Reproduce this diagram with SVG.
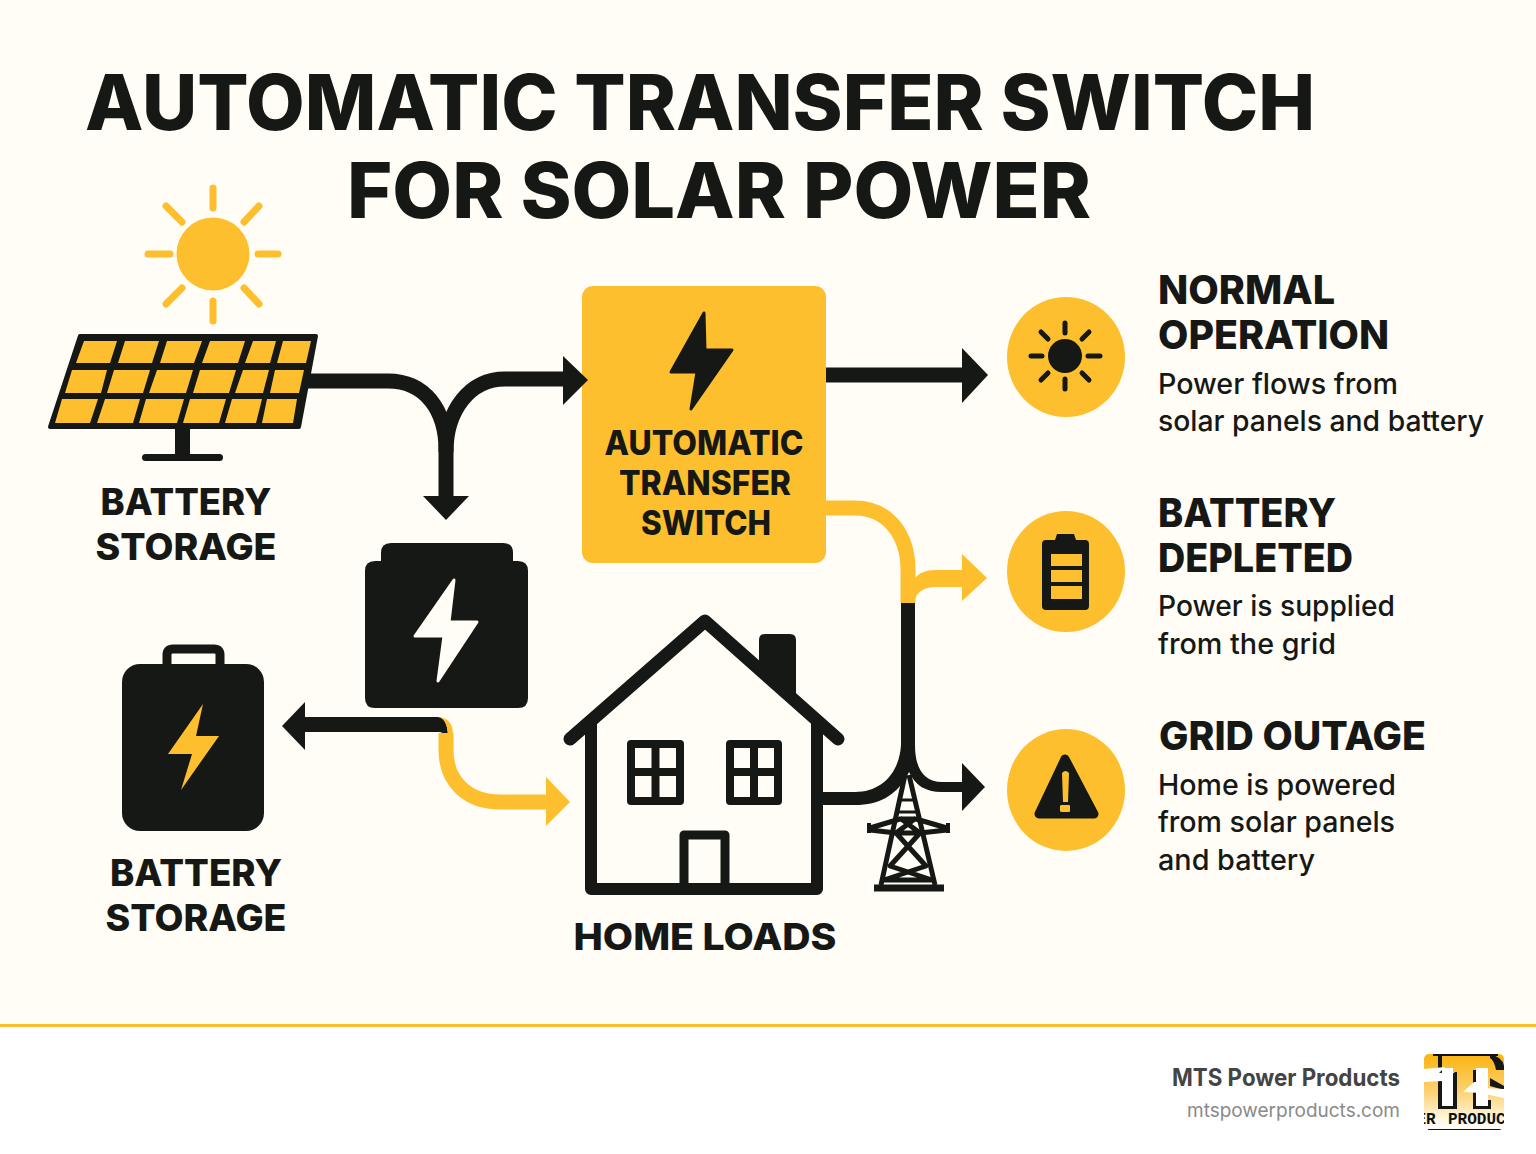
<svg xmlns="http://www.w3.org/2000/svg" width="1536" height="1154" viewBox="0 0 1536 1154">
<style>
.t{font-family:Inter,"Liberation Sans",sans-serif;fill:#161815}
.h{font-weight:800;font-size:40px}
.d{font-weight:500;font-size:29px}
.b{font-weight:800;font-size:37px}
.k{fill:none;stroke:#161815;stroke-width:15}
.y{fill:none;stroke:#FDBF2D;stroke-width:15}
.fy{fill:#FDBF2D}.fk{fill:#161815}
.ray{stroke:#FDBF2D;stroke-width:7;stroke-linecap:round}
.ray2{stroke:#161815;stroke-width:5;stroke-linecap:round}
.hl{fill:none;stroke:#161815;stroke-width:12;stroke-linejoin:round;stroke-linecap:round}
</style>
<defs>
<linearGradient id="lg" x1="0" y1="0" x2="0" y2="1"><stop offset="0" stop-color="#FBB40F"/><stop offset="0.5" stop-color="#FDD272"/><stop offset="0.85" stop-color="#FFF6DE"/><stop offset="1" stop-color="#FFFFFF"/></linearGradient>
<clipPath id="lc"><rect x="1424" y="1054" width="80" height="76" rx="5"/></clipPath>
</defs>
<rect width="1536" height="1154" fill="#FFFDF6"/>
<rect y="1025" width="1536" height="129" fill="#FFFFFF"/>
<rect y="1024" width="1536" height="3" class="fy"/>
<g id="title">
<text class="t" x="85" y="130" font-size="77" font-weight="800" textLength="1230" lengthAdjust="spacingAndGlyphs">AUTOMATIC TRANSFER SWITCH</text>
<text class="t" x="347" y="218" font-size="77" font-weight="800" textLength="744" lengthAdjust="spacingAndGlyphs">FOR SOLAR POWER</text>
</g>
<g id="sun">
<circle class="fy" cx="213" cy="254" r="36.500"/>
<path class="ray" d="M213 188V208M213 301V321M148 254H170M258 254H278M166 206L182 222M259 206L244 222M166 304L182 288M259 304L244 288"/>
</g>
<g id="solar-panel">
<path class="fk" d="M175 425H190V456H175Z"/>
<rect x="142" y="454" width="81" height="7" rx="3.500" class="fk"/>
<path class="fk" stroke="#161815" stroke-width="4" stroke-linejoin="round" d="M80 336H316L299 427H50Z"/>
<path class="fy" d="M84 341H117L110 363H76ZM125 341H159L152 363H118ZM167 341H202L194 363H160ZM210 341H245L238 363H202ZM253 341H276L270 363H245ZM283 341H311L306 363H277Z"/>
<path class="fy" d="M72 370H107L101 393H65ZM114 370H150L143 393H107ZM157 370H193L186 393H149ZM200 370H236L229 393H193ZM243 370H269L263 393H235ZM275 370H304L299 393H270Z"/>
<path class="fy" d="M62 399H98L90 423H55ZM105 399H140L133 423H97ZM146 399H184L177 423H139ZM190 399H226L219 423H183ZM232 399H262L256 423H225ZM267 399H297L293 423H262Z"/>
<text class="t b" x="186" y="515" text-anchor="middle" textLength="171" lengthAdjust="spacingAndGlyphs">BATTERY</text>
<text class="t b" x="186" y="560" text-anchor="middle" textLength="181" lengthAdjust="spacingAndGlyphs">STORAGE</text>
</g>
<g id="transfer-switch">
<rect x="582" y="286" width="244" height="277" rx="11" class="fy"/>
<path class="fk" d="M704 313L671 372H697L691 409L732 350H705Z" stroke="#161815" stroke-width="3" stroke-linejoin="round"/>
<text class="t" font-weight="800" font-size="34" x="704" y="455" text-anchor="middle" textLength="199" lengthAdjust="spacingAndGlyphs">AUTOMATIC</text>
<text class="t" font-weight="800" font-size="34" x="705" y="495" text-anchor="middle" textLength="172" lengthAdjust="spacingAndGlyphs">TRANSFER</text>
<text class="t" font-weight="800" font-size="34" x="706" y="535" text-anchor="middle" textLength="130" lengthAdjust="spacingAndGlyphs">SWITCH</text>
</g>
<g id="battery-main">
<path class="fk" d="M381 561V553Q381 543 391 543H503Q513 543 513 553V561H518Q528 561 528 571V698Q528 708 518 708H375Q365 708 365 698V571Q365 561 375 561Z"/>
<path fill="#FFFDF6" stroke="#FFFDF6" stroke-width="3" stroke-linejoin="round" d="M454 580L415 636H444L438 681L477 622H449Z"/>
</g>
<g id="battery-storage">
<path d="M167 666V655Q167 649 173 649H214Q220 649 220 655V666" fill="none" stroke="#161815" stroke-width="9"/>
<rect x="122" y="664" width="142" height="167" rx="18" class="fk"/>
<path class="fy" d="M203 704L168 754H192L181 790L219 736H196Z"/>
<text class="t b" x="196" y="886" text-anchor="middle" textLength="172" lengthAdjust="spacingAndGlyphs">BATTERY</text>
<text class="t b" x="196" y="931" text-anchor="middle" textLength="181" lengthAdjust="spacingAndGlyphs">STORAGE</text>
</g>
<g id="home">
<path class="fk" d="M759 640Q759 634 765 634H790Q796 634 796 640V704L759 672Z"/>
<path class="hl" d="M591 722V889H817V722"/>
<path d="M570 739L705 621L838 739" fill="none" stroke="#161815" stroke-width="13" stroke-linejoin="round" stroke-linecap="round"/>
<path class="hl" style="stroke-width:8" d="M631 744H680V801H631ZM655.500 744V801M631 772H680M730 744H778V801H730ZM754 744V801M730 772H778"/>
<path class="hl" style="stroke-width:9" d="M684 889V835H725V889"/>
<text class="t b" x="705" y="950" text-anchor="middle" textLength="263" lengthAdjust="spacingAndGlyphs">HOME LOADS</text>
</g>
<g id="tower" fill="none" stroke="#161815" stroke-width="5" stroke-linejoin="round">
<path d="M905 775L881 885M909 775L935 885"/>
<path d="M901 800L914 800M899 812L917 812" stroke-width="3"/>
<path stroke-width="7" d="M874 888H944"/>
<path d="M870 828L900 819H916L947 828M870 830L896 833L916 818M947 830L920 833L900 818M896 833L926 866L884 880M920 833L890 866L932 880M896 833H920M884 880H932"/>
<path stroke-width="4" d="M869 823V833M948 823V833"/>
</g>
<g id="connectors">
<path class="k" d="M308 381H388C425 381 446 410 446 450V498"/>
<path class="k" d="M446 452C446 410 470 379 505 379H566"/>
<path class="fk" d="M423 496H469L446 520Z"/>
<path class="fk" d="M563 356L588 380L563 405Z"/>
<path class="k" d="M826 375H964"/>
<path class="fk" d="M962 348L988 375L962 403Z"/>
<path class="y" d="M826 508H855C888 508 908 535 908 570V603"/>
<path class="fy" d="M914 603C916 592 924 587 935 587H964V570H935C926 570 919 573 915 578Z"/>
<path class="fy" d="M962 554L987 578L962 601Z"/>
<path class="fk" d="M901 603V745C899 775 880 792 855 792H820V805H855C880 805 895 795 906 778L909 772C915 785 925 792 942 792H964V782H942C925 782 915 770 915 745V603Z"/>
<path class="fk" d="M962 763L985 787L962 811Z"/>
<path class="fk" d="M305 717H438Q447 718 448 735L440 732H305Z"/>
<path class="fk" d="M305 702L282 726L305 750Z"/>
<path class="y" d="M446 733V750C446 782 468 802 500 802H548"/>
<path class="fy" d="M546 777L570 802L546 826Z"/>
<path class="fy" d="M438 717Q453 718 453 735H448Q447 718 438 717Z"/>
</g>
<g id="normal-operation">
<ellipse class="fy" cx="1066" cy="357" rx="59" ry="60"/>
<circle class="fk" cx="1065" cy="356" r="17"/>
<path class="ray2" d="M1065 323V333M1065 379V389M1031 356H1042M1088 356H1100M1041 332L1048 339M1089 332L1082 339M1041 380L1048 373M1089 380L1082 373"/>
<text class="t h" x="1158" y="304" textLength="177" lengthAdjust="spacingAndGlyphs">NORMAL</text>
<text class="t h" x="1158" y="349" textLength="231" lengthAdjust="spacingAndGlyphs">OPERATION</text>
<text class="t d" x="1158" y="394" textLength="240" lengthAdjust="spacingAndGlyphs">Power flows from</text>
<text class="t d" x="1158" y="431" textLength="326" lengthAdjust="spacingAndGlyphs">solar panels and battery</text>
</g>
<g id="battery-depleted">
<ellipse class="fy" cx="1066" cy="571.500" rx="59" ry="60.500"/>
<path class="fk" d="M1055 540L1057 534H1074L1076 540H1085Q1089 540 1089 544V606Q1089 610 1085 610H1046Q1042 610 1042 606V544Q1042 540 1046 540Z"/>
<path class="fy" d="M1051 554H1082V566H1051ZM1051 570H1082V582H1051ZM1051 586H1082V599H1051Z"/>
<text class="t h" x="1158" y="527" textLength="178" lengthAdjust="spacingAndGlyphs">BATTERY</text>
<text class="t h" x="1158" y="572" textLength="195" lengthAdjust="spacingAndGlyphs">DEPLETED</text>
<text class="t d" x="1158" y="616" textLength="237" lengthAdjust="spacingAndGlyphs">Power is supplied</text>
<text class="t d" x="1158" y="654" textLength="178" lengthAdjust="spacingAndGlyphs">from the grid</text>
</g>
<g id="grid-outage">
<ellipse class="fy" cx="1066" cy="790" rx="59" ry="61"/>
<path class="fk" stroke="#161815" stroke-width="9" stroke-linejoin="round" d="M1065 759L1039 814H1094Z"/>
<path class="fy" d="M1062 773Q1065.500 769 1069 773L1068 802H1063ZM1060 806Q1060 805 1062 805H1069Q1070 805 1070 806V811Q1070 812 1069 812H1062Q1060 812 1060 811Z"/>
<text class="t h" x="1159" y="750" textLength="267" lengthAdjust="spacingAndGlyphs">GRID OUTAGE</text>
<text class="t d" x="1158" y="795" textLength="238" lengthAdjust="spacingAndGlyphs">Home is powered</text>
<text class="t d" x="1158" y="832" textLength="237" lengthAdjust="spacingAndGlyphs">from solar panels</text>
<text class="t d" x="1158" y="870" textLength="157" lengthAdjust="spacingAndGlyphs">and battery</text>
</g>
<g id="footer">
<text x="1400" y="1086" text-anchor="end" font-family="Inter,'Liberation Sans',sans-serif" font-weight="700" font-size="24" fill="#444444" textLength="228" lengthAdjust="spacingAndGlyphs">MTS Power Products</text>
<text x="1400" y="1117" text-anchor="end" font-family="Inter,'Liberation Sans',sans-serif" font-size="19" fill="#8A8A8A" textLength="213" lengthAdjust="spacingAndGlyphs">mtspowerproducts.com</text>
<g clip-path="url(#lc)">
<rect x="1424" y="1054" width="80" height="76" fill="url(#lg)"/>
<path d="M1433 1054H1498V1056H1433Z" fill="#111"/>
<path class="fk" d="M1438 1056H1442V1106H1453V1072H1457V1109H1438Z"/>
<path d="M1442 1068H1453V1106H1442Z" fill="#FFFFFF"/>
<path class="fk" d="M1473 1070H1476V1106H1488V1100H1491V1109H1473Z"/>
<path d="M1476 1068H1488V1106H1476Z" fill="#FFFFFF"/>
<path class="fk" d="M1490 1055Q1502 1056 1504 1066V1070H1496Q1494 1060 1490 1058ZM1490 1078L1504 1086V1090L1490 1086Z"/>
<path d="M1424 1069L1445 1067L1439 1073L1455 1072L1443 1081L1424 1082Z" fill="#FFFFFF"/>
<path d="M1463 1092L1474 1082H1488L1482 1088L1504 1089V1098L1480 1093Z" fill="#FFFFFF"/>
<text x="1416.500" y="1124" font-family="'Liberation Mono',monospace" font-weight="700" font-size="16" word-spacing="2.700" fill="#111">ER PRODUC</text>
<path d="M1428 1129H1502V1130H1428Z" fill="#111"/>
</g>
</g>
</svg>
